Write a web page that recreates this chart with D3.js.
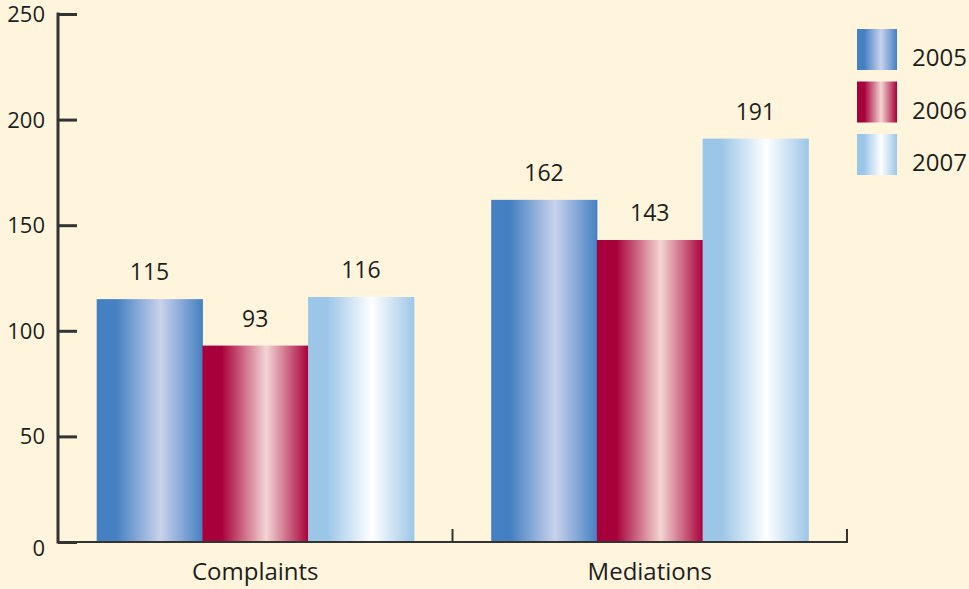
<!DOCTYPE html>
<html>
<head>
<meta charset="utf-8">
<script src="https://cdn.jsdelivr.net/npm/d3@7"></script>
<style>
  html, body { margin: 0; padding: 0; background: #fef5dc; overflow: hidden; }
  svg { display: block; font-family: "Open Sans", "Noto Sans", sans-serif; }
</style>
</head>
<body>
<svg width="969" height="589"></svg>
<script>
// data
var categories = ["Complaints", "Mediations"];
var years = ["2005", "2006", "2007"];
var values2005 = [115, 162];
var values2006 = [93, 143];
var values2007 = [116, 191];
var yTicks = [0, 50, 100, 150, 200, 250];

var series = [values2005, values2006, values2007];

// gradient stops per year: edge colour, highlight colour
var palette = [
  { edge: "#4480c2", mid: "#c9d2ec" },
  { edge: "#a8003a", mid: "#f3d6d4" },
  { edge: "#9cc6e8", mid: "#ffffff" }
];

var svg = d3.select("svg");
var plotLeft = 58, plotRight = 847, plotTop = 14, plotBottom = 542;

var defs = svg.append("defs");
palette.forEach(function(p, i) {
  var g = defs.append("linearGradient")
    .attr("id", "grad" + i)
    .attr("x1", "0%").attr("x2", "100%")
    .attr("y1", "0%").attr("y2", "0%");
  g.append("stop").attr("offset", "0%").attr("stop-color", p.edge);
  g.append("stop").attr("offset", "18%").attr("stop-color", p.edge);
  g.append("stop").attr("offset", "60%").attr("stop-color", p.mid);
  g.append("stop").attr("offset", "100%").attr("stop-color", p.edge);
});

var x0 = d3.scaleBand().domain(categories).range([plotLeft, plotRight]).paddingInner(0).paddingOuter(0);
var x1 = d3.scaleBand().domain(years).range([0, x0.bandwidth()]).paddingInner(0).paddingOuter(0.366);
var y = d3.scaleLinear().domain([0, 250]).range([plotBottom, plotTop]);

// bars
var groups = svg.append("g").selectAll("g")
  .data(categories)
  .enter().append("g")
  .attr("transform", function(d) { return "translate(" + x0(d) + ",0)"; });

groups.selectAll("rect")
  .data(function(d, ci) { return years.map(function(yr, si) { return { year: yr, si: si, v: series[si][ci] }; }); })
  .enter().append("rect")
  .attr("x", function(d) { return x1(d.year); })
  .attr("width", x1.bandwidth() + 0.5)
  .attr("y", function(d) { return y(d.v); })
  .attr("height", function(d) { return plotBottom - y(d.v); })
  .attr("fill", function(d) { return "url(#grad" + d.si + ")"; });

groups.selectAll("text")
  .data(function(d, ci) { return years.map(function(yr, si) { return { year: yr, v: series[si][ci] }; }); })
  .enter().append("text")
  .attr("x", function(d) { return x1(d.year) + x1.bandwidth() / 2; })
  .attr("y", function(d) { return y(d.v) - 19; })
  .attr("text-anchor", "middle")
  .attr("font-size", 23)
  .attr("fill", "#1e1e1e")
  .text(function(d) { return d.v; });

// y axis
var yAxis = svg.append("g")
  .attr("transform", "translate(" + plotLeft + ",0)")
  .call(d3.axisRight(y).tickValues(yTicks).tickSize(19).tickFormat(""));
yAxis.select(".domain").remove();
yAxis.selectAll("line").attr("stroke", "#333").attr("stroke-width", 3);
svg.append("line")
  .attr("x1", plotLeft).attr("x2", plotLeft)
  .attr("y1", plotTop - 1.5).attr("y2", plotBottom + 1.5)
  .attr("stroke", "#333").attr("stroke-width", 3);

svg.append("g").selectAll("text")
  .data(yTicks)
  .enter().append("text")
  .attr("x", 45)
  .attr("y", function(d) { return y(d) + 8 + (d === 0 ? 6 : 0); })
  .attr("text-anchor", "end")
  .attr("font-size", 22)
  .attr("fill", "#1e1e1e")
  .text(function(d) { return d; });

// x axis
svg.append("line")
  .attr("x1", plotLeft).attr("x2", plotRight)
  .attr("y1", plotBottom).attr("y2", plotBottom)
  .attr("stroke", "#333").attr("stroke-width", 2);
svg.append("g").selectAll("line")
  .data(categories)
  .enter().append("line")
  .attr("x1", function(d) { return x0(d) + x0.bandwidth(); })
  .attr("x2", function(d) { return x0(d) + x0.bandwidth(); })
  .attr("y1", plotBottom + 1).attr("y2", plotBottom - 13)
  .attr("stroke", "#333").attr("stroke-width", 2);

svg.append("g").selectAll("text")
  .data(categories)
  .enter().append("text")
  .attr("x", function(d) { return x0(d) + x0.bandwidth() / 2; })
  .attr("y", 580)
  .attr("text-anchor", "middle")
  .attr("font-size", 24)
  .attr("fill", "#1e1e1e")
  .text(function(d) { return d; });

// legend
var legend = svg.append("g").selectAll("g")
  .data(years)
  .enter().append("g")
  .attr("transform", function(d, i) { return "translate(857," + (29 + i * 52.5) + ")"; });
legend.append("rect")
  .attr("width", 40).attr("height", 41)
  .attr("fill", function(d, i) { return "url(#grad" + i + ")"; });
legend.append("text")
  .attr("x", 55).attr("y", 37)
  .attr("font-size", 24)
  .attr("fill", "#1e1e1e")
  .text(function(d) { return d; });
</script>
</body>
</html>
